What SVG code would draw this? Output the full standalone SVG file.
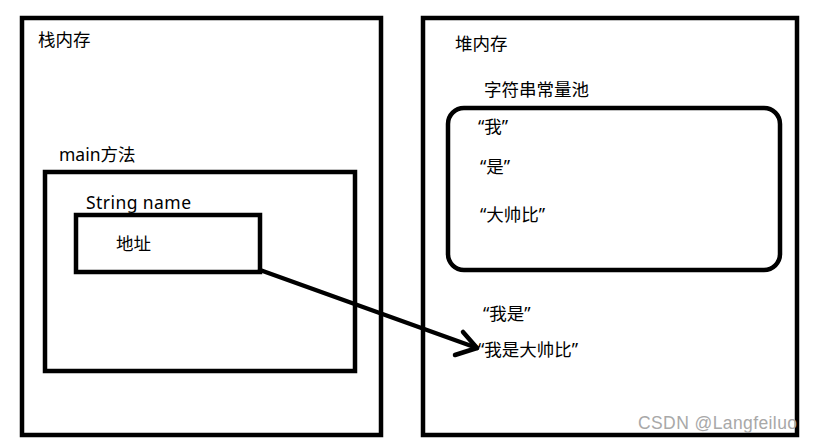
<svg xmlns="http://www.w3.org/2000/svg" width="814" height="444" viewBox="0 0 814 444">
<style>
.box{fill:none;stroke:#000;stroke-width:4.5}
.t{font-family:"Noto Sans","Noto Sans CJK SC",sans-serif;font-size:17.5px;fill:#000}
.wm{font-family:"Liberation Sans","Noto Sans",sans-serif;font-size:17.5px;fill:#a8a8a8}
.conn{fill:none;stroke:#000;stroke-width:4.5;stroke-linecap:round;stroke-linejoin:round}
</style>
<rect width="814" height="444" fill="#fff"/>
<g id="stack">
<rect class="box" x="22" y="18" width="359" height="417"/>
<text class="t" x="38" y="46">栈内存</text>
</g>
<g id="main">
<rect class="box" x="45" y="172" width="310" height="199"/>
<text class="t" x="59" y="161">main方法</text>
</g>
<g id="name">
<rect class="box" x="76" y="215" width="184" height="57"/>
<text class="t" x="86" y="209" textLength="105">String name</text>
<text class="t" x="116" y="250">地址</text>
</g>
<g id="heap">
<rect class="box" x="423" y="18" width="374" height="417"/>
<text class="t" x="455" y="50">堆内存</text>
<text class="t" x="483" y="320">“我是”</text>
<text class="t" x="478" y="356">“我是大帅比”</text>
</g>
<g id="pool">
<rect class="box" x="448" y="108" width="332" height="162" rx="16"/>
<text class="t" x="484" y="96">字符串常量池</text>
<text class="t" x="478" y="133">“我”</text>
<text class="t" x="480" y="173">“是”</text>
<text class="t" x="480" y="221">“大帅比”</text>
</g>
<g id="connectors">
<path class="conn" d="M260,270 L477,348"/>
<path class="conn" d="M463,332 L477,348 L455,355"/>
</g>
<text class="wm" x="638" y="429" textLength="159">CSDN @Langfeiluo</text>
</svg>
